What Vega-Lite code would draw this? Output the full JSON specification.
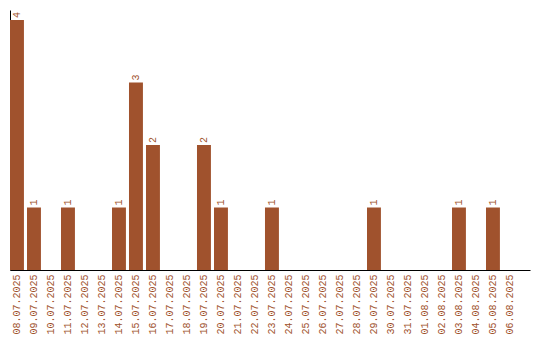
{
  "$schema": "https://vega.github.io/schema/vega-lite/v6.json",
  "autosize": "none",
  "padding": {"left": 10, "top": 10, "right": 10, "bottom": 70},
  "width": 520,
  "height": 260,
  "background": "white",
  "config": {
    "view": {"stroke": null},
    "font": "Liberation Mono"
  },
  "data": {
    "values": [
      {"date": "08.07.2025", "count": 4},
      {"date": "09.07.2025", "count": 1},
      {"date": "10.07.2025", "count": 0},
      {"date": "11.07.2025", "count": 1},
      {"date": "12.07.2025", "count": 0},
      {"date": "13.07.2025", "count": 0},
      {"date": "14.07.2025", "count": 1},
      {"date": "15.07.2025", "count": 3},
      {"date": "16.07.2025", "count": 2},
      {"date": "17.07.2025", "count": 0},
      {"date": "18.07.2025", "count": 0},
      {"date": "19.07.2025", "count": 2},
      {"date": "20.07.2025", "count": 1},
      {"date": "21.07.2025", "count": 0},
      {"date": "22.07.2025", "count": 0},
      {"date": "23.07.2025", "count": 1},
      {"date": "24.07.2025", "count": 0},
      {"date": "25.07.2025", "count": 0},
      {"date": "26.07.2025", "count": 0},
      {"date": "27.07.2025", "count": 0},
      {"date": "28.07.2025", "count": 0},
      {"date": "29.07.2025", "count": 1},
      {"date": "30.07.2025", "count": 0},
      {"date": "31.07.2025", "count": 0},
      {"date": "01.08.2025", "count": 0},
      {"date": "02.08.2025", "count": 0},
      {"date": "03.08.2025", "count": 1},
      {"date": "04.08.2025", "count": 0},
      {"date": "05.08.2025", "count": 1},
      {"date": "06.08.2025", "count": 0}
    ]
  },
  "encoding": {
    "x": {
      "field": "date",
      "type": "ordinal",
      "sort": null,
      "scale": {"paddingInner": 0.18, "paddingOuter": 0.385, "align": 0},
      "axis": {
        "title": null,
        "labelAngle": -90,
        "labelFont": "Liberation Mono",
        "labelFontSize": 10,
        "labelColor": "#A0522D",
        "labelPadding": 4,
        "ticks": false,
        "domainColor": "black",
        "domainWidth": 1
      }
    },
    "y": {
      "field": "count",
      "type": "quantitative",
      "scale": {"domain": [0, 4.16], "nice": false},
      "axis": {
        "title": null,
        "labels": false,
        "ticks": false,
        "grid": false,
        "domainColor": "black",
        "domainWidth": 1
      }
    }
  },
  "layer": [
    {
      "mark": {"type": "bar", "color": "#A0522D"}
    },
    {
      "transform": [{"filter": "datum.count > 0"}],
      "mark": {
        "type": "text",
        "angle": -90,
        "align": "left",
        "baseline": "middle",
        "dx": 2,
        "color": "#A0522D",
        "font": "Liberation Mono",
        "fontSize": 10
      },
      "encoding": {"text": {"field": "count", "type": "quantitative"}}
    }
  ]
}
